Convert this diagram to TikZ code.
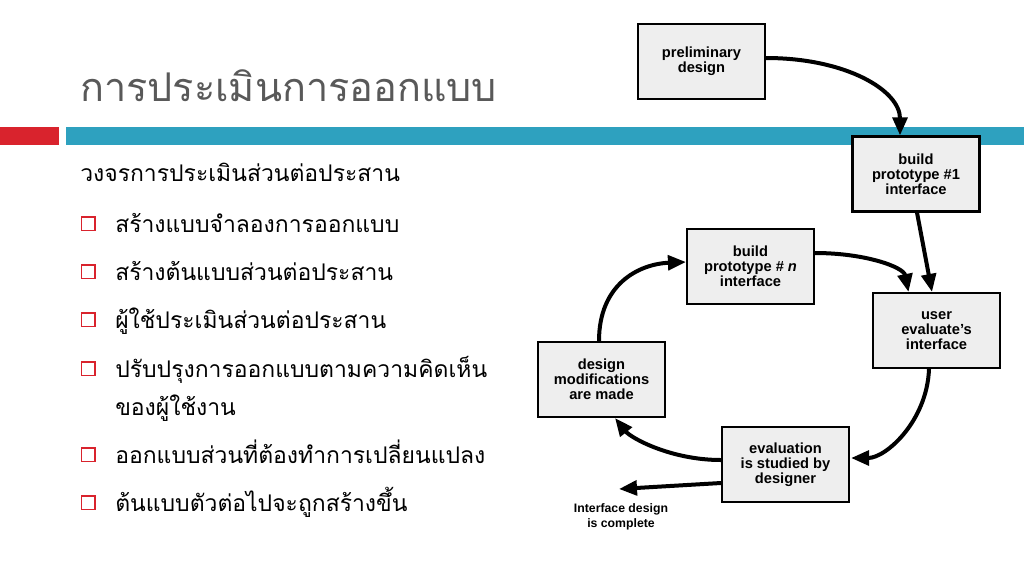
\documentclass[tikz,border=0pt]{standalone}
\usepackage{fontspec}
\setmainfont{Liberation Sans}
\newfontfamily\thaifont[Script=Thai]{Loma}
\usetikzlibrary{arrows.meta,calc}
\definecolor{barred}{HTML}{D9232D}
\definecolor{barteal}{HTML}{2EA1BF}
\definecolor{titlegray}{HTML}{595959}
\definecolor{boxfill}{HTML}{EEEEEE}
\begin{document}
\begin{tikzpicture}[x=0.75pt,y=-0.75pt,
  stagebox/.style={draw=black,line width=1.6pt,fill=boxfill,minimum width=95.25pt,minimum height=56.25pt,inner sep=0pt,align=center,font=\bfseries\fontsize{11}{11.25}\selectfont},
  flow/.style={line width=3pt,-{Triangle[length=13.5pt,width=11pt]}},
  bulletsq/.style={draw=barred,line width=1.1pt},
  bodytext/.style={anchor=base west,inner sep=0pt,font=\thaifont\fontsize{17.2}{22}\selectfont}]
\useasboundingbox (0,0) rectangle (1024,576);
\fill[white] (0,0) rectangle (1024,576);
% bars
\fill[barred] (0,127) rectangle (59,145);
\fill[barteal] (66,127) rectangle (1024,145);
% title
\node[anchor=base west,inner sep=0pt,text=titlegray,font=\thaifont\fontsize{29.7}{36}\selectfont] (title) at (80,101) {การประเมินการออกแบบ};
% subtitle and list
\node[bodytext] (sub) at (80,181) {วงจรการประเมินส่วนต่อประสาน};
\foreach \b/\t [count=\i] in {232/สร้างแบบจำลองการออกแบบ,280/สร้างต้นแบบส่วนต่อประสาน,328/ผู้ใช้ประเมินส่วนต่อประสาน,377/ปรับปรุงการออกแบบตามความคิดเห็น,463/ออกแบบส่วนที่ต้องทำการเปลี่ยนแปลง,511/ต้นแบบตัวต่อไปจะถูกสร้างขึ้น}{
  \draw[bulletsq] (81.5,\b-15) rectangle (95,\b-1.5);
  \node[bodytext] (item\i) at (115,\b) {\t};
}
\node[bodytext] (item4b) at (115,415) {ของผู้ใช้งาน};
% diagram boxes
\node[stagebox] (prelim) at (701.5,61.5) {preliminary\\design};
\node[stagebox] (proto1) at (916,174) {build\\prototype \#1\\interface};
\node[stagebox] (protoN) at (750.5,266.5) {build\\prototype \# \textit{n}\\interface};
\node[stagebox] (user) at (936.5,330.5) {user\\evaluate's\\interface};
\node[stagebox] (mods) at (601.5,379.5) {design\\modifications\\are made};
\node[stagebox] (eval) at (785.5,464.5) {evaluation\\is studied by\\designer};
\node[align=center,inner sep=0pt,font=\bfseries\fontsize{9.2}{11.25}\selectfont] (done) at (621,517) {Interface design\\is complete};
\coordinate (doneend) at (619,489);
% connectors
\draw[flow] ($(prelim.east)+(0,-3.5)$) .. controls +(80,0) and +(0,-45) .. ($(proto1.north)+(-16,0)$);
\draw[flow] ($(proto1.south)+(1,0)$) -- ($(user.north)+(-4.5,0)$);
\draw[flow] ($(protoN.east)+(0,-13.5)$) .. controls +(50,0) and +(-5,-25) .. ($(user.north)+(-28,0)$);
\draw[flow] ($(user.south)+(-7.5,0)$) .. controls +(-2,52) and +(35,0) .. ($(eval.east)+(1,-6.5)$);
\draw[flow] ($(eval.west)+(0,-4.5)$) .. controls +(-50,0) and +(16,20) .. ($(mods.south)+(13.5,0)$);
\draw[flow] ($(mods.north)+(-2.5,0)$) .. controls +(0,-57) and +(-47,2) .. ($(protoN.west)+(0,-4.5)$);
\draw[flow] ($(eval.west)+(0,18.5)$) -- (doneend);
\end{tikzpicture}
\end{document}
